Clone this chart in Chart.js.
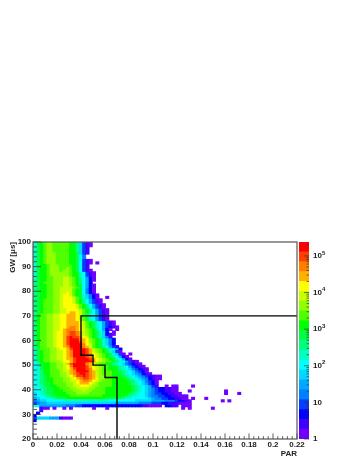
<!DOCTYPE html>
<html>
<head>
<meta charset="utf-8">
<script src="https://cdn.jsdelivr.net/npm/chart.js@4"></script>
<style>
html, body { margin: 0; padding: 0; background: #fff; }
#wrap { position: relative; width: 357px; height: 462px; overflow: hidden; }
canvas { position: absolute; top: 0; }
#heat { left: 0; }
#zbar { left: 297px; }
</style>
</head>
<body>
<div id="wrap">
  <canvas id="heat" width="357" height="462"></canvas>
  <canvas id="zbar" width="60" height="462"></canvas>
</div>
<script>
const parBinWidth = 0.00275;
const parTicks = [0, 0.02, 0.04, 0.06, 0.08, 0.1, 0.12, 0.14, 0.16, 0.18, 0.2, 0.22];
const gwTicks = [20, 30, 40, 50, 60, 70, 80, 90, 100];

// colour band of each cell, a = lowest band, t = highest, . = empty. One string per GW bin, one char per PAR bin
const levelKeys = 'abcdefghijklmnopqrst';
const gwBins = [
  99, 98, 97, 96, 95, 94, 93, 92, 91, 90, 89, 88, 87, 86, 85, 84, 83, 82, 81, 80,
  79, 78, 77, 76, 75, 74, 73, 72, 71, 70, 69, 68, 67, 66, 65, 64, 63, 62, 61, 60,
  59, 58, 57, 56, 55, 54, 53, 52, 51, 50, 49, 48, 47, 46, 45, 44, 43, 42, 41, 40,
  39, 38, 37, 36, 35, 34, 33, 32, 31, 30, 29, 28, 27
];
const cellRows = [
  'iklmnnmmmmmlljgdba',
  'iklmnnmmmmmlljgdba',
  'iklmnnmmmmmlljgdb',
  'iklmnnmmmmmlljgdb',
  'iklmnnnmmmmllkgdb',
  'iklmnnnmmmmllkhe',
  'iklmnnnmmmmllkhe',
  'iklmnnnmmmmllkhdba',
  'iklmnnnmmmmllkhdba.a',
  'ikllmnnnmmmmlkhdb',
  'ikllmnnnmmnmlkhdb',
  'ikllmnnnmnnmlkhdba',
  'ikllmnnnnnnmllihdba',
  'ikllmnnnnnnmllihdba',
  'ikllmmnnnoonmljhfca',
  'ikllmmnnnoonmljhfca',
  'jklmmmnnnoonmljhfc',
  'jkllmmnnnoonmlkhfca',
  'jkllmmnnoooonmkhfca',
  'jkllmmnnoooomlkheca',
  'jkllmmnnoopomlkheca',
  'jkllmmnnoppomlkigeca',
  'jkllmmnnopppomkigeca..a',
  'jklmmmnnopppomljhfdba',
  'jklmmmnnopppomljhfdba',
  'jklmmmnnoppppomljhfdba',
  'jklmmmnnoppppomljhfdba',
  'jklmmmnnooppppomljhfdba',
  'jklmmmnnoopqqpomljhfdba',
  'jlmmnnooppqqqpomkihfdba',
  'jlmmnnooppqqqpomkihfdba',
  'jlmmnnooppqqqpomkihfdba',
  'jlmmnnooppqqqqpomlkihfdba',
  'jlmmnnooppqqqqpomlkihfdba',
  'jlmmnnooppqrrqpomlkihfdcba',
  'jlmmnnoopqrrrqponmljhfca.a',
  'jlmmnnoppqrssrqonmlkigc.a',
  'jlmmnnoppqrssrqonmlkigcba',
  'jlmmnnoppqstssrpomlkigeb',
  'jlmmnnoppqstttrqpnmlkigec',
  'jlmmnnoppqstttsqpnmlkigec',
  'jlmmnnoppqsttttrpomlkigec',
  'jlmmnnoppqrttttrqomlkjhfdb',
  'ikmmmnnoppqsttttsqonmlkihfc',
  'iklmmnnoopqrttttsqonmlkigda',
  'iklmmnnoopqrttttsrponmlkigda.a',
  'iklmmnnoopqrttttsrponmlkjhfca',
  'iklmmnnoopqqsttttsqponmlkihfca',
  'hklmmnnnoppqstttttrponmmlkihfdba',
  'hikllmmnnoqsttttrqonmmlkjihgedcba',
  'hikllmmnnoprttttsqponmmllkjihfdcba',
  'hikllmmnnopqstttsrponmmllkjihgedcba',
  'hijllmmmnooqrttttrqonmmmllkjihgedca',
  'hijllmmmnnoqrsttsrqonmmmllkjihgfecba',
  'hijklmmmnnopqsstsrqonnmmlllkjihgfedcbaa',
  'hijkllmmmnnopqrssrqpnnmmllllkjihgfecbaa',
  'hijkllmmmnnoopqrrqponmmmlllllkjihgedca',
  'hijkklmmmmnnopqqqponmmmmlllllkjihgfdca',
  'hiikkllmmmnnoopppo' + 'nnmmmmllllllkjihgfdb..a.aa....a',
  'hhijkkllmmmnnoooonnmmm' + 'llllllllkjihgfedccbbaa',
  'hhijkklllmmmnnnonnmmmm' + 'llllllllkjihgfedccbbaa...a..........a',
  'ghijkkllllmmmnnnnmmmmm' + 'lllllllkjihhgfeddccbbaa.............a...a',
  'ghhijkkllllmmmmmmmmmm' + 'lllllllkjiihhgfeeddccbbaaa',
  'fghhiijkkkllllllllllll' + 'kkkkkjiihhhhhgfeeddccbbaa.a...a',
  'efgghhhhhiiiiiiiiiiiiii' + 'hhhhhhhhgggggffffeeedccba.........a.a',
  'deffggggggggggggggggggggg' + 'fffffffeeeedddccbbbaaaa',
  'hhffffffffeeeddcccccccccccccccccc' + 'bbaaaa.ccbb.aaa',
  '..baa.a..a.a......a...a......................a.a......a',
  '..b',
  '.c',
  'c',
  'dggggfffbaaa',
  'c'
];

// colour scale: band edges in counts, labelled decades
const zEdges = [1, 1.86, 3.45, 6.41, 11.9, 22.1, 41.1, 76.4, 142, 264, 490, 910, 1690, 3140, 5840, 10850, 20160, 37460, 69600, 129300, 240000];
const zTicks = [1, 10, 100, 1000, 10000, 100000];
const zBases = ['1', '10', '10', '10', '10', '10'];
const zPowers = ['', '', '2', '3', '4', '5'];
const levelColors = [
  '#7000ff', '#4000ff', '#0000ff', '#0040ff', '#0080ff', '#00a8ff', '#00d8ff', '#00ffff', '#00ffc0', '#00ff80',
  '#00ff40', '#00ff00', '#50ff00', '#90ff00', '#c8ff00', '#ffff00', '#ffb000', '#ff8000', '#ff4000', '#ff0000'
];

// selection cut drawn over the map
const cutPar = [0.22, 0.04, 0.04, 0.05, 0.05, 0.06, 0.06, 0.07, 0.07];
const cutGw = [70, 70, 54, 54, 50, 50, 45, 45, 20];

const textFont = { family: '"Liberation Sans", Arial, sans-serif', size: 8, weight: 'bold' };
const textColor = '#222';
const frameColor = '#555';
Chart.defaults.animation = false;

// one bar dataset per colour band
const heatDatasets = levelColors.map((color, lev) => {
  const points = [];
  cellRows.forEach((row, r) => {
    for (let i = 0; i < row.length; i++) {
      if (levelKeys.indexOf(row[i]) === lev) {
        points.push({ x: (i + 0.5) * parBinWidth, y: [gwBins[r], gwBins[r] + 1] });
      }
    }
  });
  return {
    type: 'bar',
    data: points,
    backgroundColor: color,
    grouped: false,
    barPercentage: 1,
    categoryPercentage: 1,
    order: 2
  };
});

const cutDataset = {
  type: 'line',
  data: cutPar.map((p, i) => ({ x: p, y: cutGw[i] })),
  borderColor: '#000',
  borderWidth: 1.4,
  pointRadius: 0,
  tension: 0,
  fill: false,
  order: 1
};

// ROOT style frame and inward ticks
function strokeLine(ctx, x1, y1, x2, y2) {
  ctx.beginPath();
  ctx.moveTo(x1, y1);
  ctx.lineTo(x2, y2);
  ctx.stroke();
}

const frameTicks = {
  id: 'frameTicks',
  afterDatasetsDraw(chart) {
    const { ctx, chartArea: a, scales: { x, y } } = chart;
    ctx.save();
    ctx.strokeStyle = '#333';
    ctx.lineWidth = 0.8;
    for (let k = 0; k <= 55; k++) {
      const px = x.getPixelForValue(k * 0.004);
      strokeLine(ctx, px, a.bottom, px, a.bottom - (k % 5 === 0 ? 5.5 : 2.8));
    }
    for (let k = 0; k <= 40; k++) {
      const py = y.getPixelForValue(20 + k * 2);
      strokeLine(ctx, a.left, py, a.left + (k % 5 === 0 ? 8 : 4), py);
    }
    ctx.strokeStyle = frameColor;
    ctx.lineWidth = 1.2;
    ctx.strokeRect(a.left, a.top, a.right - a.left, a.bottom - a.top);
    ctx.restore();
  }
};

new Chart(document.getElementById('heat'), {
  type: 'bar',
  data: { datasets: [cutDataset, ...heatDatasets] },
  options: {
    responsive: false,
    layout: { padding: { top: 242, right: 60, left: 0, bottom: 0 } },
    plugins: { legend: { display: false }, tooltip: { enabled: false } },
    scales: {
      x: {
        type: 'linear',
        offset: false,
        min: 0,
        max: 0.22,
        grid: { display: false, offset: false, drawTicks: false },
        border: { display: false },
        afterBuildTicks: s => { s.ticks = parTicks.map(v => ({ value: v })); },
        afterFit: s => { s.height = 23; },
        ticks: {
          font: textFont,
          color: textColor,
          padding: 1,
          autoSkip: false,
          maxRotation: 0,
          callback: v => String(+v.toFixed(2))
        },
        title: { display: true, text: 'PAR', align: 'end', font: textFont, color: textColor, padding: { top: 0, bottom: 3 } }
      },
      y: {
        min: 20,
        max: 100,
        grid: { display: false, drawTicks: false },
        border: { display: false },
        afterBuildTicks: s => { s.ticks = gwTicks.map(v => ({ value: v })); },
        afterFit: s => { s.width = 33; },
        ticks: { font: textFont, color: textColor, padding: 2, autoSkip: false },
        title: { display: true, text: 'GW [μs]', align: 'end', font: textFont, color: textColor, padding: { top: 8, bottom: 0 } }
      }
    }
  },
  plugins: [frameTicks]
});

// colour bar, labels with a raised power
const zTickMarks = {
  id: 'zTickMarks',
  afterDatasetsDraw(chart) {
    const { ctx, chartArea: a, scales: { y } } = chart;
    ctx.save();
    ctx.strokeStyle = '#333';
    ctx.lineWidth = 0.7;
    zTicks.forEach(decade => {
      for (let m = 1; m <= 9; m++) {
        const v = decade * m;
        if (v > zEdges[zEdges.length - 1]) break;
        const py = y.getPixelForValue(v);
        strokeLine(ctx, a.right, py, a.right - (m === 1 ? 5 : 2.5), py);
      }
    });
    ctx.fillStyle = textColor;
    ctx.textBaseline = 'middle';
    zTicks.forEach((v, i) => {
      const py = y.getPixelForValue(v);
      ctx.font = 'bold 8px "Liberation Sans", Arial, sans-serif';
      ctx.fillText(zBases[i], a.right + 4, py);
      const w = ctx.measureText(zBases[i]).width;
      ctx.font = 'bold 6px "Liberation Sans", Arial, sans-serif';
      ctx.fillText(zPowers[i], a.right + 4 + w, py - 3);
    });
    ctx.restore();
  }
};

new Chart(document.getElementById('zbar'), {
  type: 'bar',
  data: {
    labels: ['z'],
    datasets: levelColors.map((color, lev) => ({
      data: [[zEdges[lev], zEdges[lev + 1]]],
      backgroundColor: color,
      grouped: false,
      barPercentage: 1,
      categoryPercentage: 1
    }))
  },
  options: {
    responsive: false,
    layout: { padding: { top: 242, left: 2, right: 0, bottom: 23 } },
    plugins: { legend: { display: false }, tooltip: { enabled: false } },
    scales: {
      x: { display: false },
      y: {
        type: 'logarithmic',
        position: 'right',
        min: 1,
        max: 240000,
        grid: { display: false, drawTicks: false },
        border: { display: false },
        afterBuildTicks: s => { s.ticks = zTicks.map(v => ({ value: v })); },
        afterFit: s => { s.width = 48; },
        ticks: { display: false }
      }
    }
  },
  plugins: [zTickMarks]
});
</script>
</body>
</html>
